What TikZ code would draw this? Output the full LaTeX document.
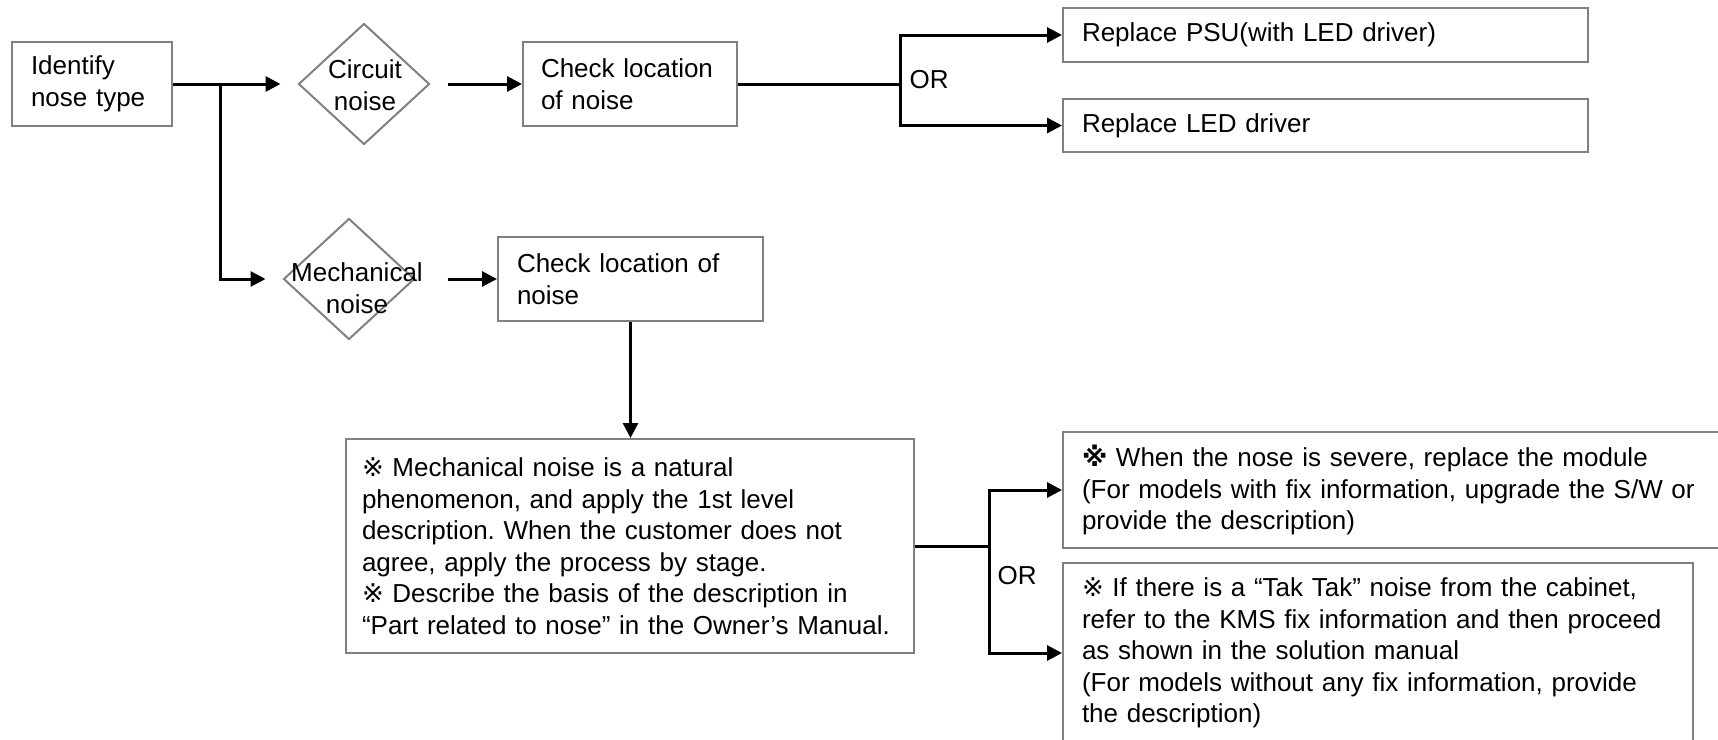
\documentclass[tikz,border=0pt]{standalone}
\usepackage{fontspec}
\setmainfont{Liberation Sans}
\newfontfamily\markfont{DejaVu Sans}
\usepackage{tikz}
\usetikzlibrary{positioning,arrows.meta,shapes.geometric,calc}
\newcommand{\refmk}{{\markfont ※}}
\newcommand{\refmkb}{{\markfont\bfseries ※}}
\frenchspacing

\begin{document}
\begin{tikzpicture}[x=1pt, y=-1pt,
    every node/.style={font=\fontsize{26}{31.5}\selectfont},
    box/.style={draw=black!50, line width=2pt, rectangle, inner xsep=19pt, inner ysep=0pt, align=left},
    decision/.style={draw=black!50, line width=2pt, diamond, inner sep=0pt, minimum width=131pt, minimum height=121pt},
    link/.style={line width=3pt},
    arr/.style={link, -{Triangle[length=15pt,width=15pt]}}]
    \useasboundingbox (0,0) rectangle (1718,739);

    % =========================================================
    % TOP ROW: CIRCUIT NOISE
    % =========================================================
    \node[box, text width=122pt, minimum height=84pt] (ident) at (92,84) {Identify\\nose type};
    \coordinate (split) at ($(ident.east)+(47,0)$);

    % Decision: circuit
    \node[decision] (circ) at (364,84) {};
    \node[align=center] (circtxt) at (365,85) {Circuit\\noise};

    % Check location (circuit)
    \node[box, inner xsep=18pt, text width=178pt, minimum height=84pt] (chkA) at (630,84) {Check location\\of noise};

    % Replace options
    \node[box, text width=487pt, minimum height=54pt] (psu) at (1325.5,35) {Replace PSU(with LED driver)};
    \node[box, text width=487pt, minimum height=53pt] (led) at (1325.5,125.5) {Replace LED driver};
    \coordinate (orA) at ($(chkA.east)+(162,0)$);
    \node[anchor=base west] (ortxtA) at (906,88) {OR};

    \draw[link] (ident.east) -- (split);
    \draw[arr, shorten >=17pt] (split) -- (circ.west);
    \draw[arr, shorten <=17pt] (circ.east) -- (chkA.west);
    \draw[link] (chkA.east) -- (orA);
    \draw[arr] (orA) |- (psu.west);
    \draw[arr] (orA) |- (led.west);

    % =========================================================
    % LOWER ROW: MECHANICAL NOISE
    % =========================================================
    \node[decision] (mech) at (349,279) {};
    \node[align=center] (mechtxt) at (357,288) {Mechanical\\noise};

    \node[box, text width=227pt, minimum height=84pt] (chkB) at (630.5,279) {Check location of\\noise};

    % Description box
    \node[box, inner xsep=16pt, text width=536pt, minimum height=214pt] (descr) at (630,546)
        {\refmk{} Mechanical noise is a natural\\
         phenomenon, and apply the 1st level\\
         description. When the customer does not\\
         agree, apply the process by stage.\\
         \refmk{} Describe the basis of the description in\\
         “Part related to nose” in the Owner’s Manual.};

    % Options after description
    \node[box, text width=624pt, minimum height=116pt] (severe) at (1394,490)
        {\refmkb{} When the nose is severe, replace the module\\
         (For models with fix information, upgrade the S/W or\\
         provide the description)};
    \node[box, text width=592pt, minimum height=180pt] (taktak) at (1378,653)
        {\refmk{} If there is a “Tak Tak” noise from the cabinet,\\
         refer to the KMS fix information and then proceed\\
         as shown in the solution manual\\
         (For models without any fix information, provide\\
         the description)};
    \coordinate (orB) at ($(descr.east)+(74,0)$);
    \node[anchor=base west] (ortxtB) at (994,584) {OR};

    \draw[arr, shorten >=17pt] (split) |- (mech.west);
    \draw[arr, shorten <=32pt] (mech.east) -- (chkB.west);
    \draw[arr] (chkB.south) -- (chkB.south |- descr.north);
    \draw[link] (descr.east) -- (orB);
    \draw[arr] (orB) |- (severe.west);
    \draw[arr] (orB) |- (taktak.west);
\end{tikzpicture}
\end{document}
